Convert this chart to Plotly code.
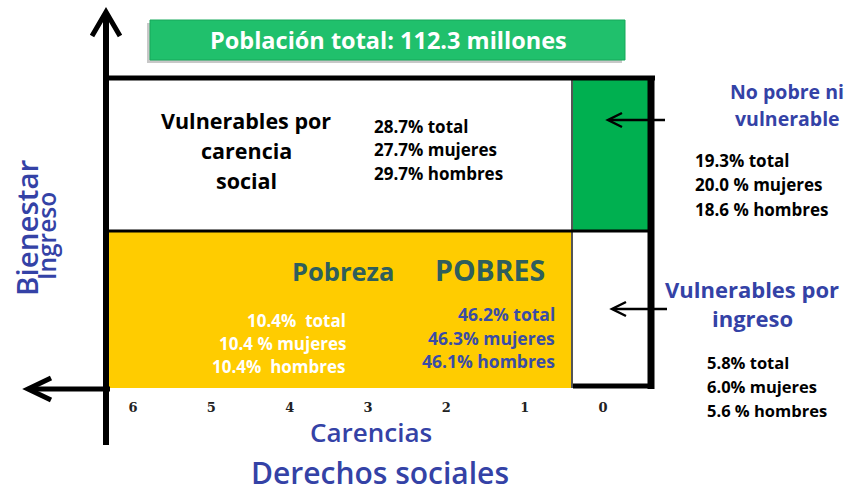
import plotly.graph_objects as go

# ---------------- data ----------------
carencias = [6, 5, 4, 3, 2, 1, 0]
titulo = "Población total: 112.3 millones"

vuln_carencia_label = ["Vulnerables por", "carencia", "social"]
vuln_carencia_vals = ["28.7% total", "27.7% mujeres", "29.7% hombres"]

no_pobre_label = ["No pobre ni", "vulnerable"]
no_pobre_vals = ["19.3% total", "20.0 % mujeres", "18.6 % hombres"]

pobreza_ext_label = "Pobreza"
pobreza_ext_vals = ["10.4%  total", "10.4 % mujeres", "10.4%  hombres"]

pobres_label = "POBRES"
pobres_vals = ["46.2% total", "46.3% mujeres", "46.1% hombres"]

vuln_ingreso_label = ["Vulnerables por", "ingreso"]
vuln_ingreso_vals = ["5.8% total", "6.0% mujeres", "5.6 % hombres"]

eje_x_label = "Carencias"
eje_x_sub = "Derechos sociales"
eje_y_label = "Bienestar"
eje_y_sub = "Ingreso"

# ---------------- geometry / style ----------------
W, H = 849, 493
PX_PER_UNIT = 78.33
X0_PX = 133.0  # pixel of carencia 6


def cx(px):
    """pixel column -> carencia axis units"""
    return 6 - (px - X0_PX) / PX_PER_UNIT


FONT = "Open Sans"
BLUE = "#3442a6"
BLUE2 = "#3a4ca6"
TEAL = "#2f5e5c"
GREEN = "#00b050"
BANNER = "#20c06c"
YELLOW = "#ffcc00"

fig = go.Figure()
fig.add_trace(go.Scatter(x=[cx(0), cx(W)], y=[0, H], mode="markers",
                         marker=dict(opacity=0), hoverinfo="skip", showlegend=False))

shapes = []


def rect(x0, y0, x1, y1, fill, line_color=None, lw=0, layer="below"):
    shapes.append(dict(type="rect", xref="x", yref="y", x0=cx(x0), x1=cx(x1), y0=y0, y1=y1,
                       fillcolor=fill, line=dict(color=line_color or fill, width=lw), layer=layer))


def line(x0, y0, x1, y1, color="black", w=3):
    shapes.append(dict(type="line", xref="x", yref="y", x0=cx(x0), x1=cx(x1), y0=y0, y1=y1,
                       line=dict(color=color, width=w), layer="above"))


def chevron(pts, w=3):
    d = "M " + " L ".join(f"{cx(a):.4f},{b}" for a, b in pts)
    shapes.append(dict(type="path", xref="x", yref="y", path=d,
                       line=dict(color="black", width=w), layer="above"))


# banner shadow + banner
rect(147, 23, 622, 63, "#c8c8c8")
rect(150, 20, 625, 60, BANNER, "#17a85a", 1)

# cells
rect(108, 78, 573, 231, "white")
rect(573, 80, 648, 231, GREEN)
rect(108, 231, 573, 388, YELLOW)
rect(573, 231, 648, 386, "white")

# inner lines
line(572, 80, 572, 388, "#555555", 2)
line(108, 231, 648, 231, "black", 3)
line(573, 386, 651, 386, "black", 5)
# outer box
line(106, 78, 655, 78, "black", 5)
line(651, 76, 651, 389, "black", 7)

# axes with arrows
line(106, 445, 106, 14, "black", 6)
chevron([(92, 36), (106, 12), (120, 36)], 5)
line(110, 389, 30, 389, "black", 5)
chevron([(51, 378), (28, 389), (51, 400)], 5)

# pointer arrows
line(665, 120, 609, 120, "black", 2.5)
chevron([(622, 113), (608, 120), (622, 127)], 2.5)
line(667, 309, 613, 309, "black", 2.5)
chevron([(626, 302), (612, 309), (626, 316)], 2.5)

annotations = []


def txt(text, x, y, size, color="black", weight="bold", xanchor="center", angle=0,
        family=FONT):
    annotations.append(dict(text=text, x=cx(x), y=y, xref="x", yref="y", showarrow=False,
                            xanchor=xanchor, yanchor="middle", textangle=angle,
                            font=dict(family=family, size=size, color=color, weight=weight)))


txt(titulo, 388, 40, 23.5, "white")

for i, t in enumerate(vuln_carencia_label):
    txt(t, 246, 120 + 30 * i, 21.5)
for i, t in enumerate(vuln_carencia_vals):
    txt(t, 372, 126 + 23.5 * i, 17, xanchor="left")

for i, t in enumerate(no_pobre_label):
    txt(t, 787, 91 + 27 * i, 19.5, BLUE)
for i, t in enumerate(no_pobre_vals):
    txt(t, 693, 160 + 24.5 * i, 17, xanchor="left")

txt(pobreza_ext_label, 343, 271, 25.5, TEAL)
txt(pobres_label, 490, 270, 28.5, TEAL)
for i, t in enumerate(pobreza_ext_vals):
    txt(t, 348, 320 + 23 * i, 17, "white", xanchor="right")
for i, t in enumerate(pobres_vals):
    txt(t, 557, 314 + 23.5 * i, 17.5, BLUE2, xanchor="right")

for i, t in enumerate(vuln_ingreso_label):
    txt(t, 752, 289 + 29 * i, 22, BLUE)
for i, t in enumerate(vuln_ingreso_vals):
    txt(t, 705, 362 + 24 * i, 16.5, xanchor="left")

txt(eje_x_label, 371, 432, 26, BLUE, weight=600)
txt(eje_x_sub, 380, 472, 30, BLUE, weight=600)
txt(eje_y_label, 26, 228, 29.5, BLUE, weight=600, angle=-90)
txt(eje_y_sub, 46, 236, 24.5, BLUE, weight=600, angle=-90)

fig.update_layout(
    width=W, height=H, margin=dict(l=0, r=0, t=0, b=0),
    paper_bgcolor="white", plot_bgcolor="white",
    shapes=shapes, annotations=annotations, showlegend=False,
    xaxis=dict(range=[cx(0), cx(W)], tickvals=carencias, ticktext=[str(c) for c in carencias],
               showgrid=False, zeroline=False, showline=False, ticks="",
               anchor="free", position=1 - 398 / H,
               tickfont=dict(family="DejaVu Serif", size=13, color="#222222", weight="bold")),
    yaxis=dict(range=[H, 0], visible=False, showgrid=False, zeroline=False),
)
fig.write_html("out.html", config={"displayModeBar": False},
               post_script="document.body.style.margin='0px';")
